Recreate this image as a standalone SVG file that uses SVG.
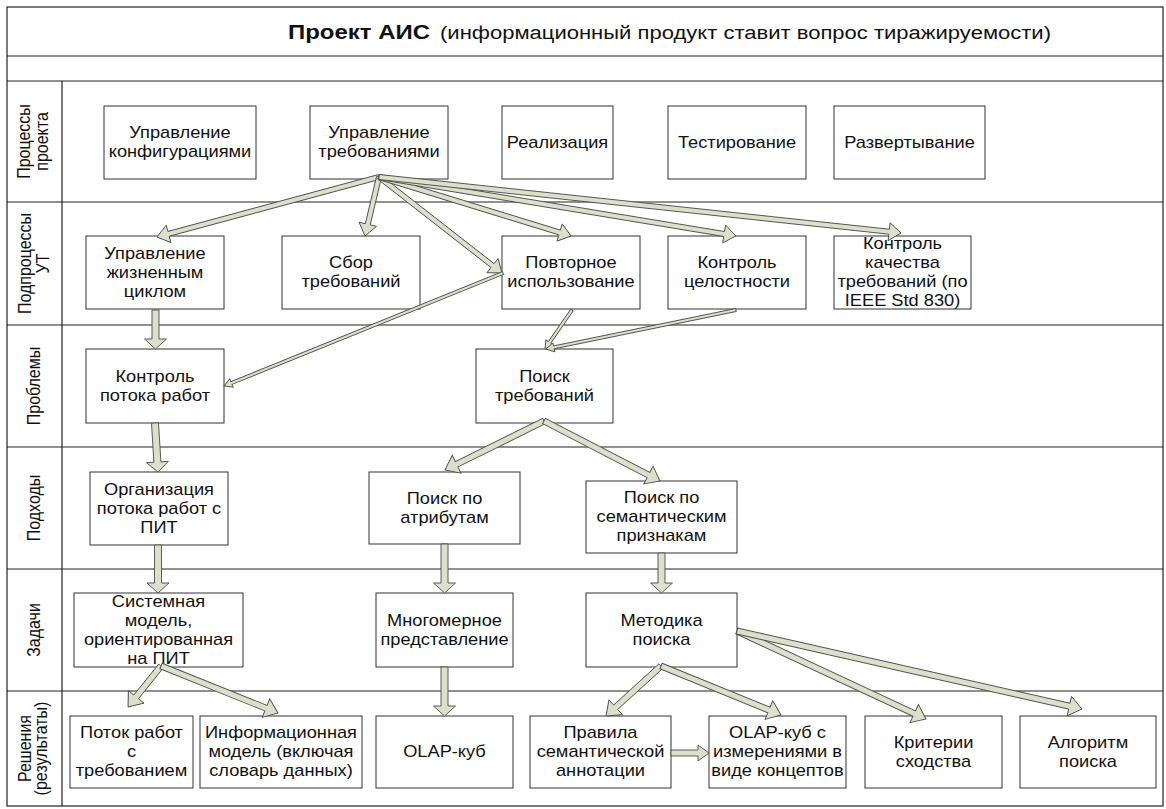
<svg xmlns="http://www.w3.org/2000/svg" width="1166" height="809" viewBox="0 0 1166 809">
<style>
.frame{fill:#fff;stroke:#222;stroke-width:1.2}
.ln{stroke:#222;stroke-width:1.2;fill:none}
.box{fill:#fff;stroke:#333;stroke-width:1}
.t{font-family:"Liberation Sans",Arial,sans-serif;font-size:16px;fill:#111;text-anchor:middle}
.lt{font-family:"Liberation Sans",Arial,sans-serif;font-size:16px;fill:#111;text-anchor:middle}
.ttl{font-family:"Liberation Sans",Arial,sans-serif;fill:#111}
.arr{fill:#dcdfc9;stroke:#4d4d4d;stroke-width:0.9;stroke-linejoin:miter}
</style>
<rect x="0" y="0" width="1166" height="809" fill="#fff"/>
<g id="frame">
<rect class="frame" x="7" y="7" width="1156" height="799"/>
<line class="ln" x1="7" y1="56" x2="1163" y2="56"/>
<line class="ln" x1="7" y1="81" x2="1163" y2="81"/>
<line class="ln" x1="62" y1="81" x2="62" y2="806"/>
<line class="ln" x1="7" y1="202" x2="1163" y2="202"/>
<line class="ln" x1="7" y1="325" x2="1163" y2="325"/>
<line class="ln" x1="7" y1="447" x2="1163" y2="447"/>
<line class="ln" x1="7" y1="569" x2="1163" y2="569"/>
<line class="ln" x1="7" y1="691" x2="1163" y2="691"/>
<text class="ttl" x="288" y="39" font-size="20" font-weight="bold" textLength="142" lengthAdjust="spacingAndGlyphs">Проект АИС</text>
<text class="ttl" x="440" y="39" font-size="18" textLength="611" lengthAdjust="spacingAndGlyphs">(информационный продукт ставит вопрос тиражируемости)</text>
</g>
<g id="lanes">
<text class="lt" transform="matrix(0,-1,1.14,0,30,141.5)">Процессы</text>
<text class="lt" transform="matrix(0,-1,1.14,0,47.5,141.5)">проекта</text>
<text class="lt" transform="matrix(0,-1,1.14,0,31,263.5)">Подпроцессы</text>
<text class="lt" transform="matrix(0,-1,1.14,0,49,263.5)">УТ</text>
<text class="lt" transform="matrix(0,-1,1.14,0,40,386)">Проблемы</text>
<text class="lt" transform="matrix(0,-1,1.14,0,40,508)">Подходы</text>
<text class="lt" transform="matrix(0,-1,1.14,0,40,630)">Задачи</text>
<text class="lt" transform="matrix(0,-1,1.14,0,31,748.5)">Решения</text>
<text class="lt" transform="matrix(0,-1,1.14,0,47,748.5)">(результаты)</text>
</g>
<g id="n_uk"><rect class="box" x="104" y="106" width="152" height="73"/>
<text class="t" transform="matrix(1.14,0,0,1,180,0)"><tspan x="0" y="138.5">Управление</tspan><tspan x="0" y="157.5">конфигурациями</tspan></text></g>
<g id="n_ut"><rect class="box" x="310" y="106" width="138" height="73"/>
<text class="t" transform="matrix(1.14,0,0,1,379,0)"><tspan x="0" y="138.5">Управление</tspan><tspan x="0" y="157.5">требованиями</tspan></text></g>
<g id="n_real"><rect class="box" x="502" y="106" width="111" height="73"/>
<text class="t" transform="matrix(1.14,0,0,1,557.5,0)"><tspan x="0" y="148">Реализация</tspan></text></g>
<g id="n_test"><rect class="box" x="668" y="106" width="138" height="73"/>
<text class="t" transform="matrix(1.14,0,0,1,737,0)"><tspan x="0" y="148">Тестирование</tspan></text></g>
<g id="n_razv"><rect class="box" x="834" y="106" width="151" height="73"/>
<text class="t" transform="matrix(1.14,0,0,1,909.5,0)"><tspan x="0" y="148">Развертывание</tspan></text></g>

<g id="n_uzc"><rect class="box" x="86" y="236" width="138" height="73"/>
<text class="t" transform="matrix(1.14,0,0,1,155,0)"><tspan x="0" y="259">Управление</tspan><tspan x="0" y="278">жизненным</tspan><tspan x="0" y="297">циклом</tspan></text></g>
<g id="n_sbor"><rect class="box" x="282" y="236" width="138" height="73"/>
<text class="t" transform="matrix(1.14,0,0,1,351,0)"><tspan x="0" y="268.5">Сбор</tspan><tspan x="0" y="287.5">требований</tspan></text></g>
<g id="n_povt"><rect class="box" x="502" y="236" width="138" height="73"/>
<text class="t" transform="matrix(1.14,0,0,1,571,0)"><tspan x="0" y="268.5">Повторное</tspan><tspan x="0" y="287.5">использование</tspan></text></g>
<g id="n_kc"><rect class="box" x="668" y="236" width="138" height="73"/>
<text class="t" transform="matrix(1.14,0,0,1,737,0)"><tspan x="0" y="268.5">Контроль</tspan><tspan x="0" y="287.5">целостности</tspan></text></g>
<g id="n_kk"><rect class="box" x="834" y="236" width="137" height="73"/>
<text class="t" transform="matrix(1.14,0,0,1,902.5,0)"><tspan x="0" y="249.5">Контроль</tspan><tspan x="0" y="268.5">качества</tspan><tspan x="0" y="287.5">требований (по</tspan><tspan x="0" y="306.5">IEEE Std 830)</tspan></text></g>

<g id="n_kpr"><rect class="box" x="86" y="349" width="138" height="74"/>
<text class="t" transform="matrix(1.14,0,0,1,155,0)"><tspan x="0" y="382">Контроль</tspan><tspan x="0" y="401">потока работ</tspan></text></g>
<g id="n_poisk"><rect class="box" x="476" y="349" width="137" height="74"/>
<text class="t" transform="matrix(1.14,0,0,1,544.5,0)"><tspan x="0" y="382">Поиск</tspan><tspan x="0" y="401">требований</tspan></text></g>

<g id="n_org"><rect class="box" x="90" y="472" width="138" height="73"/>
<text class="t" transform="matrix(1.14,0,0,1,159,0)"><tspan x="0" y="495">Организация</tspan><tspan x="0" y="514">потока работ с</tspan><tspan x="0" y="533">ПИТ</tspan></text></g>
<g id="n_ppa"><rect class="box" x="369" y="472" width="151" height="72"/>
<text class="t" transform="matrix(1.14,0,0,1,444.5,0)"><tspan x="0" y="504">Поиск по</tspan><tspan x="0" y="523">атрибутам</tspan></text></g>
<g id="n_pps"><rect class="box" x="586" y="481" width="151" height="72"/>
<text class="t" transform="matrix(1.14,0,0,1,661.5,0)"><tspan x="0" y="503.5">Поиск по</tspan><tspan x="0" y="522.5">семантическим</tspan><tspan x="0" y="541.5">признакам</tspan></text></g>

<g id="n_sm"><rect class="box" x="74" y="593" width="169" height="74"/>
<text class="t" transform="matrix(1.14,0,0,1,158.5,0)"><tspan x="0" y="607">Системная</tspan><tspan x="0" y="626">модель,</tspan><tspan x="0" y="645">ориентированная</tspan><tspan x="0" y="664">на ПИТ</tspan></text></g>
<g id="n_mnog"><rect class="box" x="376" y="593" width="137" height="74"/>
<text class="t" transform="matrix(1.14,0,0,1,444.5,0)"><tspan x="0" y="626">Многомерное</tspan><tspan x="0" y="645">представление</tspan></text></g>
<g id="n_met"><rect class="box" x="586" y="593" width="151" height="74"/>
<text class="t" transform="matrix(1.14,0,0,1,661.5,0)"><tspan x="0" y="626">Методика</tspan><tspan x="0" y="645">поиска</tspan></text></g>

<g id="n_potok"><rect class="box" x="70" y="716" width="123" height="72"/>
<text class="t" transform="matrix(1.14,0,0,1,131.5,0)"><tspan x="0" y="738.5">Поток работ</tspan><tspan x="0" y="757.5">с</tspan><tspan x="0" y="776.5">требованием</tspan></text></g>
<g id="n_info"><rect class="box" x="200" y="716" width="162" height="72"/>
<text class="t" transform="matrix(1.14,0,0,1,281,0)"><tspan x="0" y="738.5">Информационная</tspan><tspan x="0" y="757.5">модель (включая</tspan><tspan x="0" y="776.5">словарь данных)</tspan></text></g>
<g id="n_olap"><rect class="box" x="376" y="716" width="137" height="72"/>
<text class="t" transform="matrix(1.14,0,0,1,444.5,0)"><tspan x="0" y="757.5">OLAP-куб</tspan></text></g>
<g id="n_prav"><rect class="box" x="530" y="716" width="141" height="72"/>
<text class="t" transform="matrix(1.14,0,0,1,600.5,0)"><tspan x="0" y="738.5">Правила</tspan><tspan x="0" y="757.5">семантической</tspan><tspan x="0" y="776.5">аннотации</tspan></text></g>
<g id="n_olapc"><rect class="box" x="709" y="716" width="137" height="72"/>
<text class="t" transform="matrix(1.14,0,0,1,777.5,0)"><tspan x="0" y="738.5">OLAP-куб с</tspan><tspan x="0" y="757.5">измерениями в</tspan><tspan x="0" y="776.5">виде концептов</tspan></text></g>
<g id="n_krit"><rect class="box" x="865" y="716" width="137" height="72"/>
<text class="t" transform="matrix(1.14,0,0,1,933.5,0)"><tspan x="0" y="748">Критерии</tspan><tspan x="0" y="767">сходства</tspan></text></g>
<g id="n_alg"><rect class="box" x="1020" y="716" width="136" height="72"/>
<text class="t" transform="matrix(1.14,0,0,1,1088,0)"><tspan x="0" y="748">Алгоритм</tspan><tspan x="0" y="767">поиска</tspan></text></g>

<g id="connectors">
<path class="arr" transform="translate(379,177) rotate(164.88)" d="M0,-2.5H218V-9L230,0L218,9V2.5H0Z"/>
<path class="arr" transform="translate(379,177) rotate(103.35)" d="M0,-2.5H48.6V-9L60.6,0L48.6,9V2.5H0Z"/>
<path class="arr" transform="translate(379,177) rotate(37.97)" d="M0,-2.5H144V-9L156,0L144,9V2.5H0Z"/>
<path class="arr" transform="translate(379,177) rotate(17.08)" d="M0,-2.5H188.9V-9L200.9,0L188.9,9V2.5H0Z"/>
<path class="arr" transform="translate(379,177) rotate(9.38)" d="M0,-2.5H349.8V-9L361.8,0L349.8,9V2.5H0Z"/>
<path class="arr" transform="translate(379,177) rotate(6.12)" d="M0,-2.5H513V-9L525,0L513,9V2.5H0Z"/>
<path class="arr" transform="translate(503,273) rotate(157.95)" d="M0,-1.5H293V-4.5L301,0L293,4.5V1.5H0Z"/>
<path class="arr" transform="translate(572,310) rotate(124.7)" d="M0,-1.5H39.4V-4.5L47.4,0L39.4,4.5V1.5H0Z"/>
<path class="arr" transform="translate(736,310) rotate(168.4)" d="M0,-1.5H186V-4.5L194,0L186,4.5V1.5H0Z"/>
<path class="arr" transform="translate(155.5,310) rotate(90)" d="M0,-3.5H29V-11L39,0L29,11V3.5H0Z"/>
<path class="arr" transform="translate(155,423) rotate(86.5)" d="M0,-3.5H39.1V-11L49.1,0L39.1,11V3.5H0Z"/>
<path class="arr" transform="translate(158,545) rotate(90)" d="M0,-3.5H38V-11L48,0L38,11V3.5H0Z"/>
<path class="arr" transform="translate(444.5,544) rotate(90)" d="M0,-3.5H39V-11L49,0L39,11V3.5H0Z"/>
<path class="arr" transform="translate(661.5,553) rotate(90)" d="M0,-3.5H30V-11L40,0L30,11V3.5H0Z"/>
<path class="arr" transform="translate(444.5,667) rotate(90)" d="M0,-3.5H39V-11L49,0L39,11V3.5H0Z"/>
<path class="arr" transform="translate(544,421) rotate(153.67)" d="M0,-3H97.5V-10L110.5,0L97.5,10V3H0Z"/>
<path class="arr" transform="translate(544,421) rotate(27.35)" d="M0,-3H117.6V-10L130.6,0L117.6,10V3H0Z"/>
<path class="arr" transform="translate(161,666) rotate(128.8)" d="M0,-3H39.6V-10L52.6,0L39.6,10V3H0Z"/>
<path class="arr" transform="translate(161,666) rotate(21.88)" d="M0,-3H113.1V-10L126.1,0L113.1,10V3H0Z"/>
<path class="arr" transform="translate(661,666) rotate(137.7)" d="M0,-3H61.3V-10L74.3,0L61.3,10V3H0Z"/>
<path class="arr" transform="translate(661,666) rotate(22.2)" d="M0,-3H116.6V-10L129.6,0L116.6,10V3H0Z"/>
<path class="arr" transform="translate(737,631) rotate(24.97)" d="M0,-3H195.5V-10L208.5,0L195.5,10V3H0Z"/>
<path class="arr" transform="translate(737,631) rotate(12.74)" d="M0,-3H340.7V-10L353.7,0L340.7,10V3H0Z"/>
<path class="arr" transform="translate(671,753)" d="M0,-3H27V-8L38,0L27,8V3H0Z"/>
</g>
</svg>
